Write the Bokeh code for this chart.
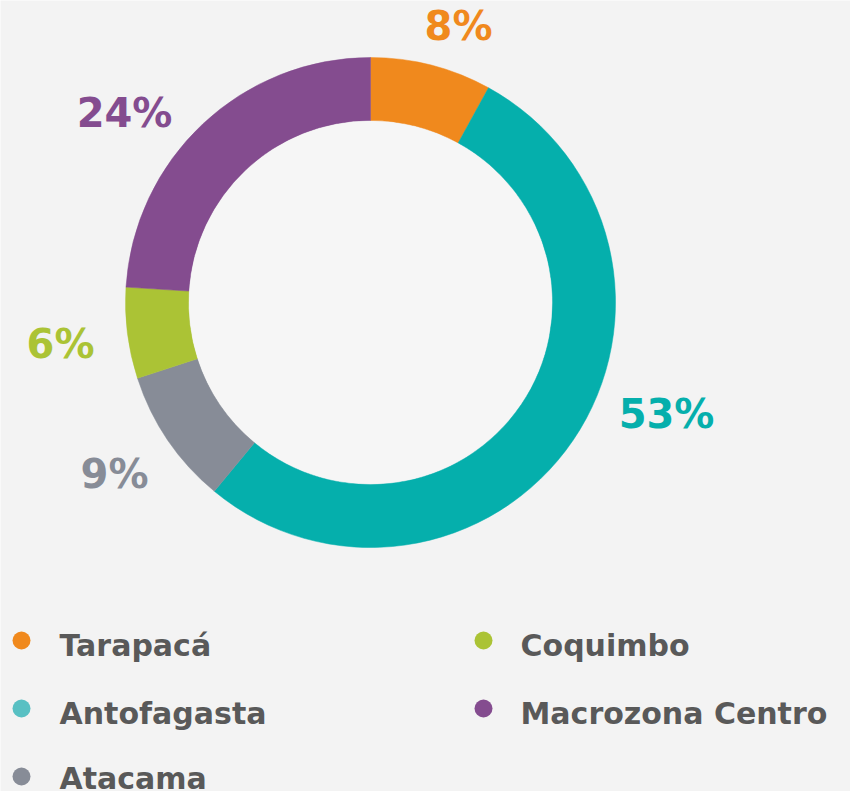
from bokeh.plotting import figure
from bokeh.models import Range1d
from bokeh.embed import file_html
from bokeh.resources import INLINE
from bokeh.core.properties import value
import math

# ---- data ----
regions = ["Tarapacá", "Antofagasta", "Atacama", "Coquimbo", "Macrozona Centro"]
shares = [8, 53, 9, 6, 24]
labels = ["8%", "53%", "9%", "6%", "24%"]
colors = ["#F0891D", "#05AFAC", "#878C97", "#ABC335", "#844C8F"]
legend_colors = ["#F0891D", "#58C0C3", "#878C97", "#ABC335", "#844C8F"]

# ---- layout constants (page pixel coordinates) ----
W, H = 850, 791
BG = "#F3F3F3"
CX, CY = 370, 302
R_OUT, R_IN = 245, 182
label_pos = [(458, 25), (666, 413), (114, 473), (60, 343), (124, 112)]
legend_pos = [(21, 640, 59, 645), (21, 708, 59, 713), (21, 776, 59, 778),
              (483, 640, 520, 645), (483, 708, 520, 713)]
FONT = value("DejaVu Sans")

def Y(y):
    return H - y

def X(x):
    return x

p = figure(width=W, height=H, x_range=Range1d(0, W), y_range=Range1d(0, H),
           output_backend="svg", toolbar_location=None, min_border=0,
           background_fill_color=BG, border_fill_color=BG, outline_line_color=None)
p.axis.visible = False
p.grid.visible = False

total = sum(shares)
starts, ends = [], []
cum = 0
for s in shares:
    starts.append(math.pi / 2 - 2 * math.pi * cum / total)
    cum += s
    ends.append(math.pi / 2 - 2 * math.pi * cum / total)

p.annular_wedge(x=[X(CX)] * len(shares), y=[Y(CY)] * len(shares),
                inner_radius=R_IN, outer_radius=R_OUT,
                start_angle=starts, end_angle=ends, direction="clock",
                fill_color=colors, line_color=colors, line_width=0.5)
p.circle(x=[X(CX)], y=[Y(CY)], radius=R_IN - 0.5, fill_color="#F6F6F6", line_color=None)

p.text(x=[X(a) for a, b in label_pos], y=[Y(b) for a, b in label_pos], text=labels,
       text_color=colors, text_font=FONT, text_font_style="bold",
       text_font_size="40px", text_align="center", text_baseline="middle")

p.scatter(x=[X(a) for a, b, c, d in legend_pos], y=[Y(b) for a, b, c, d in legend_pos],
          size=18, marker="circle", fill_color=legend_colors, line_color=None)
p.text(x=[X(c) for a, b, c, d in legend_pos], y=[Y(d) for a, b, c, d in legend_pos], text=regions,
       text_color="#595959", text_font=FONT, text_font_style="bold",
       text_font_size="30px", text_align="left", text_baseline="middle")

html = file_html(p, INLINE)
open("out.html", "w").write(html)
